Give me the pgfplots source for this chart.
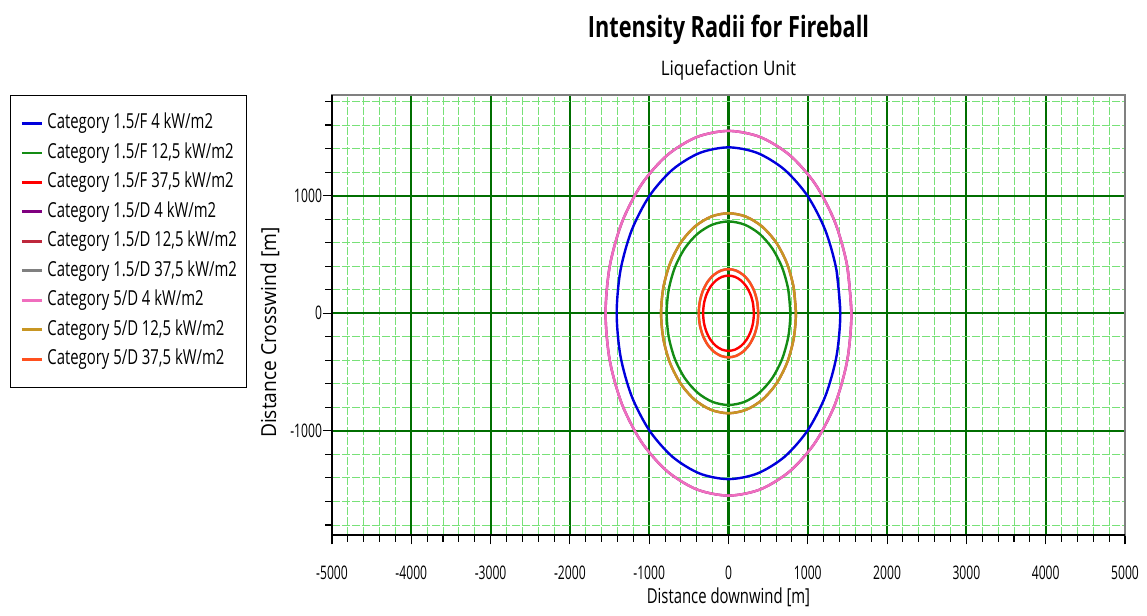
\documentclass[border=0pt]{standalone}
\usepackage{fontspec}
\setmainfont[FakeStretch=0.65]{Open Sans}
\newfontfamily\titlefont[FakeStretch=0.74]{Open Sans}
\newfontfamily\subfont[FakeStretch=0.85]{Open Sans}
\newfontfamily\legfont[FakeStretch=0.72]{Open Sans}
\newfontfamily\labfont[FakeStretch=0.72]{Open Sans}
\newfontfamily\ylabfont[FakeStretch=0.93]{Open Sans}
\usepackage{pgfplots}
\pgfplotsset{compat=1.18}
\usepackage{pgfplotstable}

\definecolor{cblue}{RGB}{0,0,220}
\definecolor{cgreen}{RGB}{20,140,20}
\definecolor{cred}{RGB}{255,0,0}
\definecolor{cpurple}{RGB}{128,0,128}
\definecolor{cbrown}{RGB}{190,40,60}
\definecolor{cgray}{RGB}{128,128,128}
\definecolor{cpink}{RGB}{240,110,190}
\definecolor{colive}{RGB}{200,150,35}
\definecolor{corange}{RGB}{255,80,30}
\definecolor{gridmajor}{RGB}{0,110,0}
\definecolor{gridminor}{RGB}{120,225,120}

% 4 kW/m2, category 5/D
\pgfplotstableread[row sep=\\]{x y\\
1550 0\\ 1497.2 401.2\\ 1342.3 775\\ 1096 1096\\ 775 1342.3\\ 401.2 1497.2\\ 0 1550\\
-401.2 1497.2\\ -775 1342.3\\ -1096 1096\\ -1342.3 775\\ -1497.2 401.2\\ -1550 0\\
-1497.2 -401.2\\ -1342.3 -775\\ -1096 -1096\\ -775 -1342.3\\ -401.2 -1497.2\\ 0 -1550\\
401.2 -1497.2\\ 775 -1342.3\\ 1096 -1096\\ 1342.3 -775\\ 1497.2 -401.2\\ 1550 0\\ 1497.2 401.2\\
}\radA
% 4 kW/m2, category 1.5/F
\pgfplotstableread[row sep=\\]{x y\\
1410 0\\ 1362 364.9\\ 1221.1 705\\ 997 997\\ 705 1221.1\\ 364.9 1362\\ 0 1410\\
-364.9 1362\\ -705 1221.1\\ -997 997\\ -1221.1 705\\ -1362 364.9\\ -1410 0\\
-1362 -364.9\\ -1221.1 -705\\ -997 -997\\ -705 -1221.1\\ -364.9 -1362\\ 0 -1410\\
364.9 -1362\\ 705 -1221.1\\ 997 -997\\ 1221.1 -705\\ 1362 -364.9\\ 1410 0\\ 1362 364.9\\
}\radB
% 12,5 kW/m2, category 5/D
\pgfplotstableread[row sep=\\]{x y\\
850 0\\ 821 220\\ 736.1 425\\ 601 601\\ 425 736.1\\ 220 821\\ 0 850\\
-220 821\\ -425 736.1\\ -601 601\\ -736.1 425\\ -821 220\\ -850 0\\
-821 -220\\ -736.1 -425\\ -601 -601\\ -425 -736.1\\ -220 -821\\ 0 -850\\
220 -821\\ 425 -736.1\\ 601 -601\\ 736.1 -425\\ 821 -220\\ 850 0\\ 821 220\\
}\radC
% 12,5 kW/m2, category 1.5/F
\pgfplotstableread[row sep=\\]{x y\\
780 0\\ 753.4 201.9\\ 675.5 390\\ 551.5 551.5\\ 390 675.5\\ 201.9 753.4\\ 0 780\\
-201.9 753.4\\ -390 675.5\\ -551.5 551.5\\ -675.5 390\\ -753.4 201.9\\ -780 0\\
-753.4 -201.9\\ -675.5 -390\\ -551.5 -551.5\\ -390 -675.5\\ -201.9 -753.4\\ 0 -780\\
201.9 -753.4\\ 390 -675.5\\ 551.5 -551.5\\ 675.5 -390\\ 753.4 -201.9\\ 780 0\\ 753.4 201.9\\
}\radD
% 37,5 kW/m2, category 5/D
\pgfplotstableread[row sep=\\]{x y\\
375 0\\ 362.2 97.1\\ 324.8 187.5\\ 265.2 265.2\\ 187.5 324.8\\ 97.1 362.2\\ 0 375\\
-97.1 362.2\\ -187.5 324.8\\ -265.2 265.2\\ -324.8 187.5\\ -362.2 97.1\\ -375 0\\
-362.2 -97.1\\ -324.8 -187.5\\ -265.2 -265.2\\ -187.5 -324.8\\ -97.1 -362.2\\ 0 -375\\
97.1 -362.2\\ 187.5 -324.8\\ 265.2 -265.2\\ 324.8 -187.5\\ 362.2 -97.1\\ 375 0\\ 362.2 97.1\\
}\radE
% 37,5 kW/m2, category 1.5/F
\pgfplotstableread[row sep=\\]{x y\\
320 0\\ 309.1 82.8\\ 277.1 160\\ 226.3 226.3\\ 160 277.1\\ 82.8 309.1\\ 0 320\\
-82.8 309.1\\ -160 277.1\\ -226.3 226.3\\ -277.1 160\\ -309.1 82.8\\ -320 0\\
-309.1 -82.8\\ -277.1 -160\\ -226.3 -226.3\\ -160 -277.1\\ -82.8 -309.1\\ 0 -320\\
82.8 -309.1\\ 160 -277.1\\ 226.3 -226.3\\ 277.1 -160\\ 309.1 -82.8\\ 320 0\\ 309.1 82.8\\
}\radF

\begin{document}
\begin{tikzpicture}
\begin{axis}[
  scale only axis, width=594.75pt, height=330pt,
  xmin=-5000, xmax=5000, ymin=-1885, ymax=1855,
  xtick={-5000,-4000,...,5000}, ytick={-1000,0,1000},
  minor x tick num=4,
  minor ytick={-1800,-1600,-1400,-1200,-800,-600,-400,-200,200,400,600,800,1200,1400,1600,1800},
  grid=both,
  major grid style={draw=gridmajor, line width=1.6pt},
  minor grid style={draw=gridminor, line width=0.7pt, dash pattern=on 6pt off 1.5pt},
  tick align=outside, xtick pos=bottom, ytick pos=left,
  major tick length=7pt, minor tick length=5pt,
  tick style={black, line width=0.8pt},
  axis line style={draw=gray, line width=0.8pt},
  scaled ticks=false,
  /pgf/number format/1000 sep={},
  /pgf/number format/assume math mode=true,
  ticklabel style={font=\fontsize{14}{16}\selectfont},
  xticklabel style={yshift=-12.75pt},
  yticklabel style={xshift=3pt},
  xlabel={Distance downwind [m]}, ylabel={Distance Crosswind [m]},
  every axis x label/.style={at={(rel axis cs:0.5,0)}, anchor=center, yshift=-46.5pt,
    font=\labfont\fontsize{15.5}{17}\selectfont},
  every axis y label/.style={at={(rel axis cs:0,0.46)}, rotate=90, anchor=center, yshift=46.5pt,
    font=\ylabfont\fontsize{15.5}{17}\selectfont},
  legend cell align=left,
  legend image code/.code={\draw[#1, line width=2.2pt] (0pt,0pt) -- (15pt,0pt);},
  legend style={at={(0,1)}, anchor=north west, xshift=-241.5pt,
    draw=black, line width=0.8pt, inner xsep=7.5pt, inner ysep=14pt,
    row sep=8.1pt, column sep=3pt,
    nodes={inner sep=0pt, text height=11pt, text depth=3pt},
    font=\legfont\fontsize{15.5}{17}\selectfont},
  every axis plot/.append style={line width=1.8pt, smooth},
]
\addplot[cblue] table {\radB};
\addplot[cgreen] table {\radD};
\addplot[cred] table {\radF};
\addplot[cpurple] table {\radA};
\addplot[cbrown] table {\radC};
\addplot[cgray] table {\radE};
\addplot[cpink] table {\radA};
\addplot[colive] table {\radC};
\addplot[corange] table {\radE};
\legend{{Category 1.5/F 4 kW/m2}, {Category 1.5/F 12,5 kW/m2}, {Category 1.5/F 37,5 kW/m2},
  {Category 1.5/D 4 kW/m2}, {Category 1.5/D 12,5 kW/m2}, {Category 1.5/D 37,5 kW/m2},
  {Category 5/D 4 kW/m2}, {Category 5/D 12,5 kW/m2}, {Category 5/D 37,5 kW/m2}}
\coordinate (sw) at (rel axis cs:0,0);
\coordinate (ne) at (rel axis cs:1,1);
\coordinate (tc) at (rel axis cs:0.5,1);
\coordinate (nw) at (rel axis cs:0,1);
\coordinate (se) at (rel axis cs:1,0);
\end{axis}
\draw[black, line width=1.3pt] (nw) -- (sw) -- (se);
\node[font=\titlefont\bfseries\fontsize{22}{24}\selectfont] at ([yshift=48.75pt]tc) {Intensity Radii for Fireball};
\node[font=\subfont\fontsize{15}{17}\selectfont] at ([yshift=18.75pt]tc) {Liquefaction Unit};
\pgfresetboundingbox
\path[use as bounding box] ([shift={(-249pt,-60pt)}]sw) rectangle ([shift={(16.5pt,71.25pt)}]ne);
\end{tikzpicture}
\end{document}
